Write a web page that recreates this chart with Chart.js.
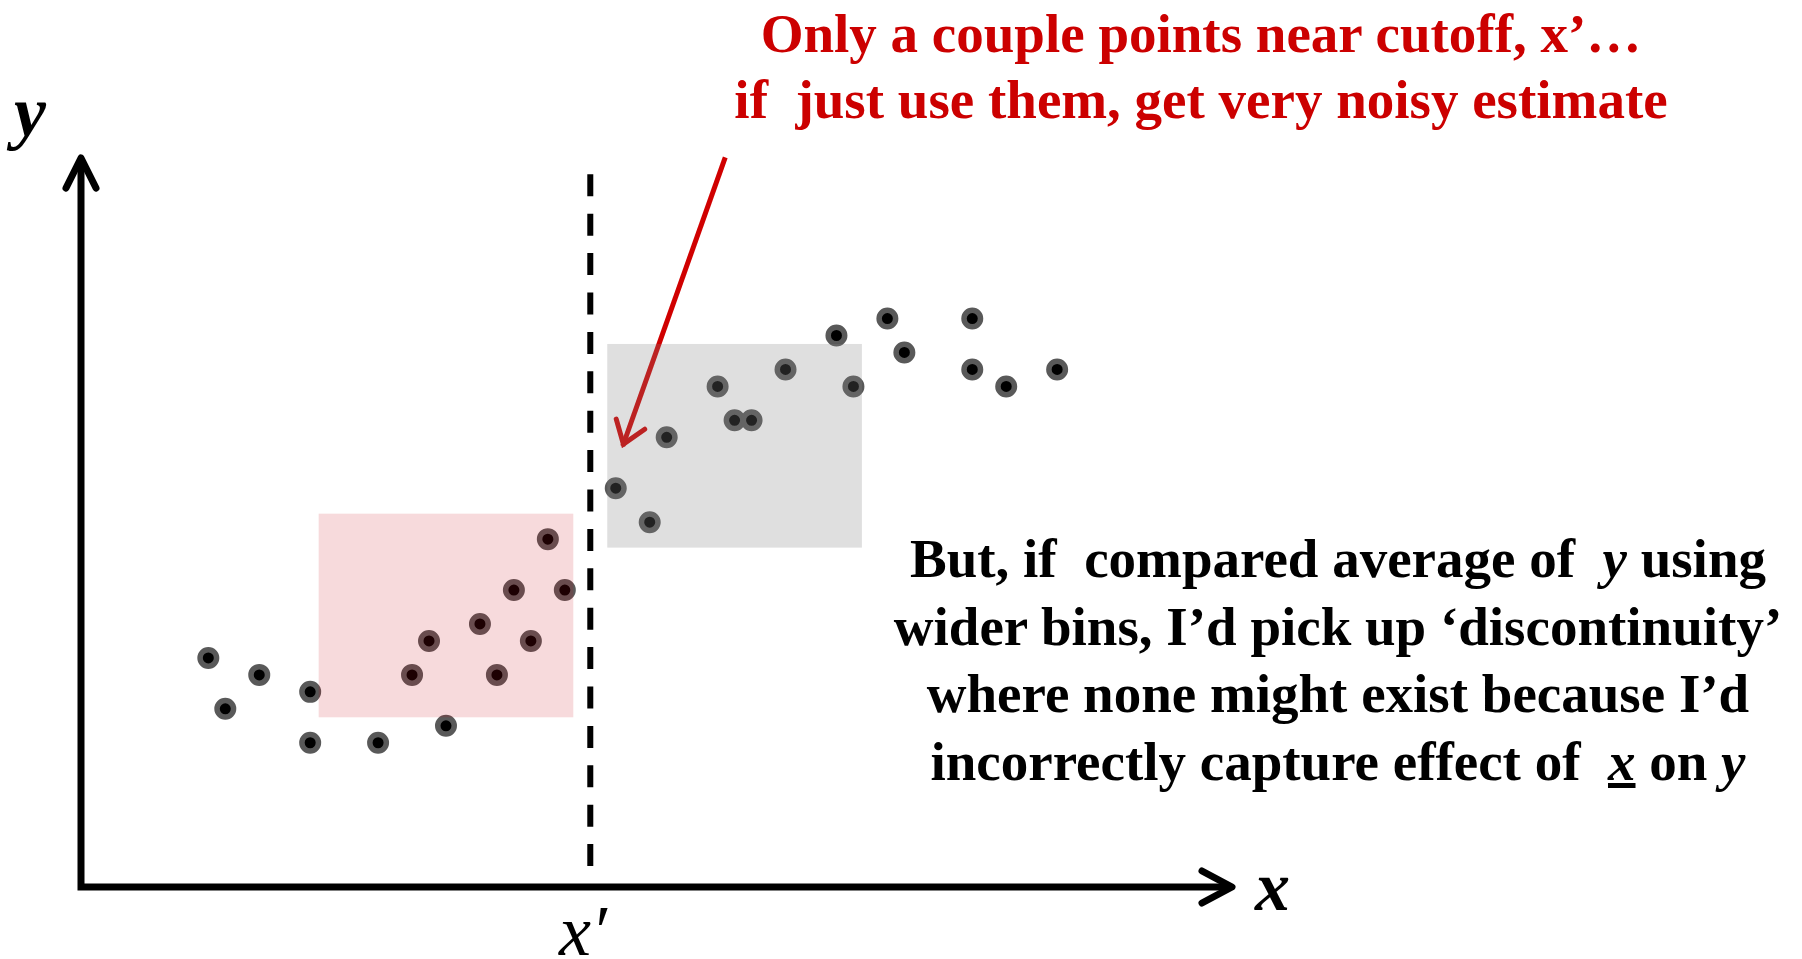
<!DOCTYPE html>
<html>
<head>
<meta charset="utf-8">
<title>Regression discontinuity - bin width</title>
<script src="https://cdn.jsdelivr.net/npm/chart.js@4.4.0/dist/chart.umd.min.js"></script>
<style>
  html, body { margin: 0; padding: 0; background: #fff; overflow: hidden; }
  #wrap { position: relative; width: 1802px; height: 959px; }
  #rd { position: absolute; left: 0; top: 0; }
  .note { position: absolute; font-family: "Liberation Serif", "Times New Roman", serif; font-weight: bold; font-size: 55px; text-align: center; white-space: nowrap; }
  .lbl { position: absolute; font-family: "Liberation Serif", "Times New Roman", serif; line-height: 1; white-space: nowrap; }
</style>
</head>
<body>
<div id="wrap">
  <canvas id="rd" width="1802" height="959"></canvas>

  <div class="note" style="left:701px; top:1px; width:1000px; line-height:66px; color:#cc0000;">
    Only a couple points near cutoff, x’…<br>if&nbsp; just use them, get very noisy estimate
  </div>

  <div class="note" style="left:838px; top:525px; width:1000px; line-height:67.7px; color:#000;">
    But, if&nbsp; compared average of&nbsp; <i>y</i> using<br>
    wider bins, I’d pick up ‘discontinuity’<br>
    where none might exist because I’d<br>
    incorrectly capture effect of&nbsp; <u><i>x</i></u> on <i>y</i>
  </div>

  <div class="lbl" style="left:14px; top:76px; font-size:72px; font-weight:bold; font-style:italic;">y</div>
  <div class="lbl" style="left:1255px; top:852px; font-size:70px; font-weight:bold; font-style:italic;">x</div>
  <div class="lbl" style="left:559px; top:895px; font-size:72px; font-style:italic;">x′</div>
</div>

<script>
// =============================
// data (x, y in plot units)
// =============================
const leftX  = [7.5, 8.5, 10.5, 13.5, 13.5, 17.5, 21.5, 19.5, 20.5, 23.5, 24.5, 25.5, 26.5, 27.5, 28.5];
const leftY  = [13.5, 10.5, 12.5, 11.5, 8.5, 8.5, 9.5, 12.5, 14.5, 15.5, 12.5, 17.5, 14.5, 20.5, 17.5];
const rightX = [31.5, 33.5, 34.5, 37.5, 38.5, 39.5, 41.5, 44.5, 45.5, 47.5, 48.5, 52.5, 52.5, 54.5, 57.5];
const rightY = [23.5, 21.5, 26.5, 29.5, 27.5, 27.5, 30.5, 32.5, 29.5, 33.5, 31.5, 33.5, 30.5, 29.5, 30.5];

const cutoff = 30;
const cutoffSpan = [42, 1];          // dashed line from top to bottom

// bins: [xFrom, xTo, yFrom, yTo]
const lowBin  = [14, 29, 10, 22];
const highBin = [31, 46, 20, 32];

// red callout arrow: [xFrom, yFrom, xTo, yTo]
const callout = [37.95, 43.0, 31.95, 26.1];

const X_MAX = 67.8;
const Y_MAX = 42.96;

const toPts = (xs, ys) => xs.map((x, i) => ({ x: x, y: ys[i] }));

// =============================
// extra drawing (axes, arrow, bins)
// =============================
function chevron(ctx, tx, ty, a1x, a1y, a2x, a2y) {
  ctx.beginPath();
  ctx.moveTo(a1x, a1y);
  ctx.lineTo(tx, ty);
  ctx.lineTo(a2x, a2y);
  ctx.stroke();
}

const decor = {
  id: "decor",
  beforeDatasetsDraw(chart) {
    const ctx = chart.ctx;
    const xs = chart.scales.x, ys = chart.scales.y;
    const x0 = xs.getPixelForValue(0), y0 = ys.getPixelForValue(0);
    const xEnd = xs.getPixelForValue(X_MAX), yEnd = ys.getPixelForValue(Y_MAX);
    ctx.save();
    ctx.strokeStyle = "#000";
    ctx.lineWidth = 7;
    ctx.lineCap = "butt";
    ctx.beginPath();
    ctx.moveTo(x0 - 3.5, y0);
    ctx.lineTo(xEnd - 3, y0);
    ctx.moveTo(x0, y0);
    ctx.lineTo(x0, yEnd + 3);
    ctx.stroke();
    ctx.lineCap = "round";
    ctx.lineJoin = "round";
    chevron(ctx, x0, yEnd, x0 - 15, yEnd + 30, x0 + 15, yEnd + 30);
    chevron(ctx, xEnd, y0, xEnd - 30, y0 - 16, xEnd - 30, y0 + 16);
    ctx.restore();
  },
  afterDatasetsDraw(chart) {
    const ctx = chart.ctx;
    const xs = chart.scales.x, ys = chart.scales.y;

    // callout arrow
    const ax1 = xs.getPixelForValue(callout[0]), ay1 = ys.getPixelForValue(callout[1]);
    const ax2 = xs.getPixelForValue(callout[2]), ay2 = ys.getPixelForValue(callout[3]);
    const ang = Math.atan2(ay2 - ay1, ax2 - ax1);
    const head = 26, spread = 0.62;
    ctx.save();
    ctx.strokeStyle = "#d00000";
    ctx.lineWidth = 5;
    ctx.lineCap = "butt";
    ctx.beginPath();
    ctx.moveTo(ax1, ay1);
    ctx.lineTo(ax2 + 2 * Math.cos(ang), ay2 + 2 * Math.sin(ang));
    ctx.stroke();
    ctx.lineCap = "round";
    ctx.lineJoin = "miter";
    chevron(ctx, ax2, ay2,
      ax2 - head * Math.cos(ang - spread), ay2 - head * Math.sin(ang - spread),
      ax2 - head * Math.cos(ang + spread), ay2 - head * Math.sin(ang + spread));

    // translucent bins on top of the points
    const box = (b, fill) => {
      const l = xs.getPixelForValue(b[0]), r = xs.getPixelForValue(b[1]);
      const t = ys.getPixelForValue(b[3]), btm = ys.getPixelForValue(b[2]);
      ctx.fillStyle = fill;
      ctx.fillRect(l, t, r - l, btm - t);
    };
    box(lowBin, "rgba(200, 0, 14, 0.145)");
    box(highBin, "rgba(131, 131, 131, 0.26)");
    ctx.restore();
  }
};

// =============================
// chart
// =============================
const pointStyle = {
  pointRadius: 8.25,
  pointBorderWidth: 5.5,
  pointBackgroundColor: "#000",
  pointBorderColor: "#595959",
  showLine: false
};

new Chart(document.getElementById("rd").getContext("2d"), {
  type: "scatter",
  data: {
    datasets: [
      {
        type: "line",
        label: "cutoff",
        data: [{ x: cutoff, y: cutoffSpan[0] }, { x: cutoff, y: cutoffSpan[1] }],
        borderColor: "#000",
        borderWidth: 6,
        borderDash: [22, 17.4],
        borderCapStyle: "butt",
        pointRadius: 0,
        fill: false
      },
      Object.assign({ label: "below", data: toPts(leftX, leftY) }, pointStyle),
      Object.assign({ label: "above", data: toPts(rightX, rightY) }, pointStyle)
    ]
  },
  options: {
    responsive: false,
    animation: false,
    events: [],
    layout: { padding: { left: 81, right: 570, top: 158, bottom: 72 } },
    plugins: { legend: { display: false }, tooltip: { enabled: false } },
    scales: {
      x: { type: "linear", min: 0, max: X_MAX, display: false },
      y: { type: "linear", min: 0, max: Y_MAX, display: false }
    }
  },
  plugins: [decor]
});
</script>
</body>
</html>
